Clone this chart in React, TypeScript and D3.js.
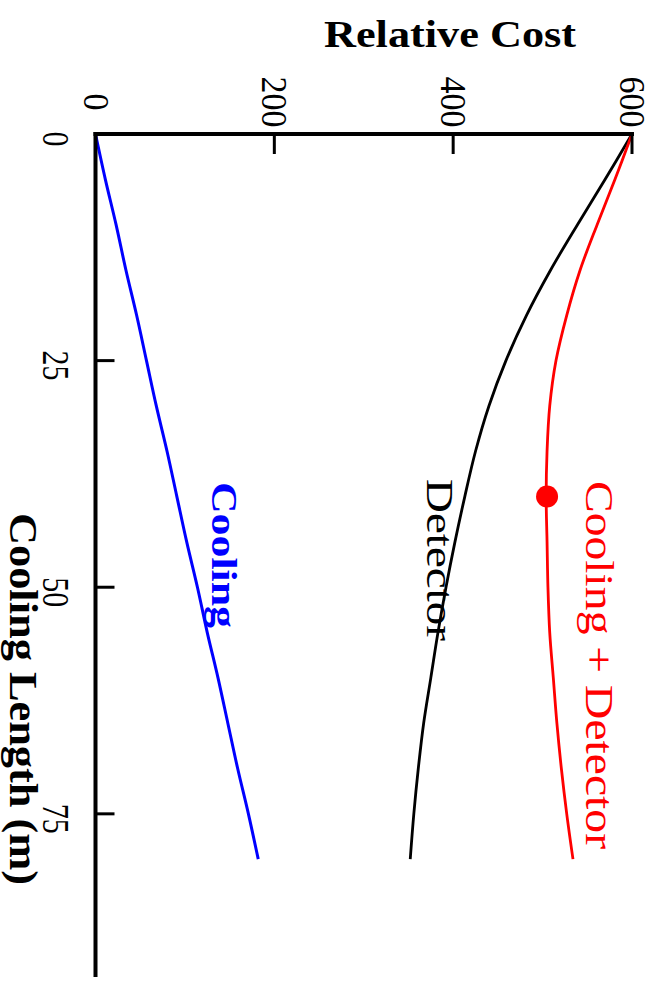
import React from "react";
import * as d3 from "d3";

// Cooling length (m) samples
const lengths = [0, 5, 10, 15, 20, 25, 30, 35, 40, 45, 50, 55, 60, 65, 70, 75, 80];
// Relative cost series
const coolingCost = [0, 11, 23, 34, 46, 57, 68, 80, 91, 102, 114, 125, 137, 148, 159, 171, 182];
const detectorCost = [600, 570, 539, 509, 482, 459, 440, 425, 413, 402, 392, 383, 375, 367, 361, 356, 352];
const totalCost = [600, 581, 561, 542, 527, 515, 508, 505, 504, 505, 506, 508, 512, 516, 521, 527, 534];
// Optimum marker
const optimumLength = [40];
const optimumCost = [505];

const costTicks = [0, 200, 400, 600];
const lengthTicks = [0, 25, 50, 75];

const FONT = "'Liberation Serif', 'Times New Roman', serif";

function VText(props: {
  x: number; y: number; text: string; size: number; len: number;
  weight?: string; fill?: string; anchor?: string;
}) {
  const { x, y, text, size, len, weight = "normal", fill = "#000", anchor = "start" } = props;
  return (
    <text
      transform={`translate(${x},${y}) rotate(90)`}
      fontFamily={FONT}
      fontSize={size}
      fontWeight={weight}
      fill={fill}
      textAnchor={anchor}
      textLength={len}
      lengthAdjust="spacingAndGlyphs"
    >
      {text}
    </text>
  );
}

export default function App() {
  const W = 655, H = 986;
  const x = d3.scaleLinear().domain([0, 600]).range([95.5, 632]);
  const y = d3.scaleLinear().domain([0, 93]).range([134, 977]);

  const line = d3
    .line<number>()
    .x((d) => x(d))
    .y((_, i) => y(lengths[i]))
    .curve(d3.curveCatmullRom.alpha(0.5));

  return (
    <svg
      width={W}
      height={H}
      style={{ position: "absolute", left: 0, top: 0, background: "#fff" }}
    >
      {/* Title */}
      <text
        x={324}
        y={47}
        fontFamily={FONT}
        fontSize={38}
        fontWeight="bold"
        textLength={252}
        lengthAdjust="spacingAndGlyphs"
      >
        Relative Cost
      </text>

      {/* Series */}
      <path d={line(coolingCost) || ""} fill="none" stroke="#0000ff" strokeWidth={3} />
      <path d={line(detectorCost) || ""} fill="none" stroke="#000" strokeWidth={2.8} />
      <path d={line(totalCost) || ""} fill="none" stroke="#ff0000" strokeWidth={2.8} />
      {optimumLength.map((l, i) => (
        <circle key={i} cx={x(optimumCost[i])} cy={y(l)} r={11} fill="#ff0000" />
      ))}

      {/* Axes */}
      <line x1={x(0) - 2} x2={x(600) + 2} y1={y(0)} y2={y(0)} stroke="#000" strokeWidth={4} />
      <line x1={x(0)} x2={x(0)} y1={y(0) - 2} y2={y.range()[1]} stroke="#000" strokeWidth={4} />
      {costTicks.filter((t) => t > 0).map((t) => (
        <line key={t} x1={x(t)} x2={x(t)} y1={y(0)} y2={y(0) + 20} stroke="#000" strokeWidth={3} />
      ))}
      {lengthTicks.filter((t) => t > 0).map((t) => (
        <line key={t} x1={x(0)} x2={x(0) + 19} y1={y(t)} y2={y(t)} stroke="#000" strokeWidth={3} />
      ))}

      {/* Tick labels */}
      {costTicks.map((t) => (
        <VText
          key={t}
          x={x(t) - 12}
          y={102}
          text={String(t)}
          size={36}
          len={String(t).length * 17}
          anchor="middle"
        />
      ))}
      {lengthTicks.map((t) => (
        <VText
          key={t}
          x={43}
          y={y(t) + 5}
          text={String(t)}
          size={38}
          len={String(t).length * 15}
          anchor="middle"
        />
      ))}

      {/* Axis label */}
      <VText x={10} y={513} text="Cooling Length (m)" size={40} len={372} weight="bold" />

      {/* Series labels */}
      <VText x={212} y={482} text="Cooling" size={35} len={146} weight="bold" fill="#0000ff" />
      <VText x={427} y={479} text="Detector" size={37} len={162} fill="#000" />
      <VText x={586} y={481} text="Cooling + Detector" size={39} len={368} fill="#ff0000" />
    </svg>
  );
}
